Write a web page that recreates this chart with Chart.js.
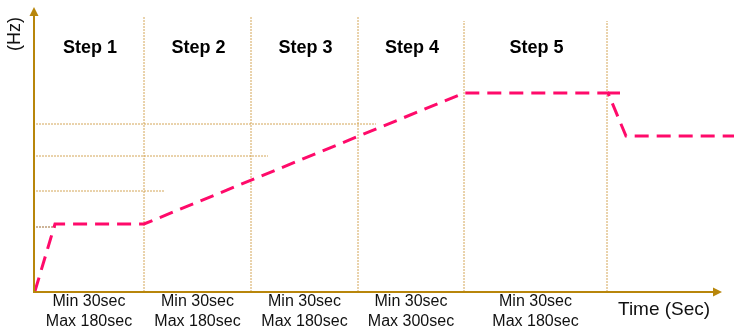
<!DOCTYPE html>
<html><head><meta charset="utf-8">
<script src="https://cdn.jsdelivr.net/npm/chart.js@4.4.1/dist/chart.umd.min.js"></script>
<style>html,body{margin:0;padding:0;background:#fff;overflow:hidden}</style>
</head><body>
<canvas id="c" width="734" height="331"></canvas>
<script>
// ---- data (time units / frequency units) ----
const stepNames = ['Step 1', 'Step 2', 'Step 3', 'Step 4', 'Step 5'];
const stepBounds = [0, 110, 217, 324, 430, 573];
const stepLineTop = [276, 276, 276, 271, 271];
const minLabels = ['Min 30sec', 'Min 30sec', 'Min 30sec', 'Min 30sec', 'Min 30sec'];
const maxLabels = ['Max 180sec', 'Max 180sec', 'Max 180sec', 'Max 300sec', 'Max 180sec'];
const profileTime = [1, 21, 110, 430, 574, 592, 700];
const profileHz = [1, 68, 68, 199, 199, 156, 156];
const stubTime = [574, 586];
const stubHz = [199, 199];
const refHz = [168, 136, 101, 65];
const refStart = [2, 2, 2, 2];
const refEnd = [342, 234, 130, 23];
const xAxisTitle = 'Time (Sec)';
const yAxisTitle = '(Hz)';

const FONT = '"Liberation Sans", Arial, sans-serif';
const AXIS = '#B8860B';
const PINK = '#FF0A6A';
const DOT = 'rgba(205,150,60,0.85)';

const datasets = [];
datasets.push({
  data: profileTime.map((t, i) => ({x: t, y: profileHz[i]})),
  borderColor: PINK, borderWidth: 3, borderDash: [14, 8], pointRadius: 0, tension: 0, fill: false
});
datasets.push({
  data: stubTime.map((t, i) => ({x: t, y: stubHz[i]})),
  borderColor: PINK, borderWidth: 3, borderDash: [14, 8], pointRadius: 0, tension: 0, fill: false
});
refHz.forEach((h, i) => {
  datasets.push({
    data: [{x: refStart[i], y: h}, {x: refEnd[i], y: h}],
    borderColor: i === 3 ? 'rgba(150,100,40,0.95)' : DOT, borderWidth: 1, borderDash: [2, 1],
    pointRadius: 0, fill: false
  });
});
stepBounds.slice(1).forEach((b, i) => {
  datasets.push({
    data: [{x: b, y: 0}, {x: b, y: stepLineTop[i]}],
    borderColor: DOT, borderWidth: 1, borderDash: [2, 1], pointRadius: 0, fill: false
  });
});

const centers = stepNames.map((_, i) => (stepBounds[i] + stepBounds[i + 1]) / 2);

const decor = {
  id: 'decor',
  afterDatasetsDraw(chart) {
    const ctx = chart.ctx;
    const a = chart.chartArea;
    const xs = chart.scales.x;
    ctx.save();
    // axes with arrows
    ctx.strokeStyle = AXIS; ctx.fillStyle = AXIS; ctx.lineWidth = 2; ctx.setLineDash([]);
    ctx.beginPath();
    ctx.moveTo(a.left, a.bottom); ctx.lineTo(a.left, a.top + 9);
    ctx.moveTo(a.left - 1, a.bottom); ctx.lineTo(713, a.bottom);
    ctx.stroke();
    ctx.beginPath();
    ctx.moveTo(a.left, a.top); ctx.lineTo(a.left - 4.5, a.top + 9); ctx.lineTo(a.left + 4.5, a.top + 9); ctx.closePath();
    ctx.fill();
    ctx.beginPath();
    ctx.moveTo(722, a.bottom); ctx.lineTo(713, a.bottom - 4.5); ctx.lineTo(713, a.bottom + 4.5); ctx.closePath();
    ctx.fill();
    // step titles
    ctx.fillStyle = '#000';
    ctx.font = 'bold 18px ' + FONT;
    ctx.textAlign = 'center'; ctx.textBaseline = 'middle';
    stepNames.forEach((s, i) => ctx.fillText(s, xs.getPixelForValue(centers[i]) + 1, 48));
    // axis titles
    ctx.fillStyle = '#111';
    ctx.font = '19px ' + FONT;
    ctx.textAlign = 'left';
    ctx.fillText(xAxisTitle, 618, 310);
    ctx.translate(15, 34);
    ctx.rotate(-Math.PI / 2);
    ctx.textAlign = 'center';
    ctx.font = '18px ' + FONT;
    ctx.fillText(yAxisTitle, 0, 0);
    ctx.restore();
  }
};

new Chart(document.getElementById('c'), {
  type: 'line',
  data: {datasets},
  options: {
    responsive: false, animation: false, devicePixelRatio: 1,
    layout: {padding: {left: 34, top: 7, right: 0, bottom: -1}},
    plugins: {legend: {display: false}, tooltip: {enabled: false}},
    scales: {
      x: {
        type: 'linear', min: 0, max: 700,
        grid: {display: false, drawTicks: false}, border: {display: false},
        afterBuildTicks: (s) => { s.ticks = centers.map(v => ({value: v})); },
        ticks: {
          autoSkip: false, maxRotation: 0, padding: 0, color: '#111',
          font: {family: FONT, size: 16, lineHeight: 1.25},
          callback: (v, i) => [minLabels[i], maxLabels[i]]
        }
      },
      y: {type: 'linear', min: 0, max: 285, display: false}
    }
  },
  plugins: [decor]
});
</script>
</body></html>
